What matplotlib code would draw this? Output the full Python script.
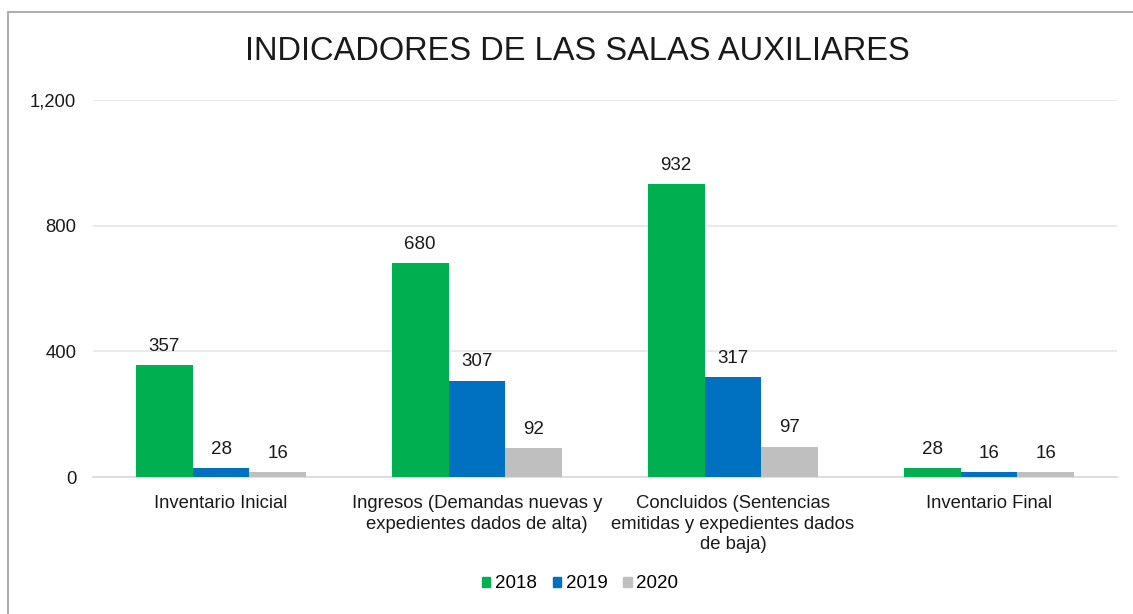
import matplotlib
matplotlib.use("Agg")
import matplotlib.pyplot as plt
import numpy as np
from matplotlib.lines import Line2D

plt.rcParams['font.family'] = ['Liberation Sans', 'DejaVu Sans']

categories = ["Inventario Inicial",
              "Ingresos (Demandas nuevas y\nexpedientes dados de alta)",
              "Concluidos (Sentencias\nemitidas y expedientes dados\nde baja)",
              "Inventario Final"]
series_names = ["2018", "2019", "2020"]
v2018 = [357, 680, 932, 28]
v2019 = [28, 307, 317, 16]
v2020 = [16, 92, 97, 16]
colors = ["#00B050", "#0070C0", "#BFBFBF"]

W, H = 1133, 614
fig = plt.figure(figsize=(W/100, H/100), dpi=100)
ax = fig.add_axes([93/W, 1-477/H, (1117-93)/W, (477-100)/H])

x = np.arange(len(categories))
bw = 0.222
for i, (vals, c, name) in enumerate(zip([v2018, v2019, v2020], colors, series_names)):
    pos = x + (i-1)*bw
    ax.bar(pos, vals, width=bw, color=c, label=name, zorder=3)
    for p, v in zip(pos, vals):
        ax.text(p, v + 32, f"{v:,}", ha='center', va='bottom', fontsize=13.5, color='#1a1a1a')

ax.set_xlim(-0.5, len(categories)-0.5)
ax.set_ylim(0, 1200)
ax.set_yticks([0, 400, 800, 1200])
ax.set_yticklabels([f"{t:,}" for t in [0, 400, 800, 1200]])
ax.yaxis.grid(True, color='#E6E6E6', linewidth=1.2, zorder=0)
ax.set_axisbelow(True)
for s in ['top', 'right', 'left']:
    ax.spines[s].set_visible(False)
ax.spines['bottom'].set_color('#D9D9D9')
ax.spines['bottom'].set_linewidth(1.2)
ax.tick_params(axis='both', length=0, labelsize=13.3, colors='#1a1a1a')
ax.tick_params(axis='y', pad=12)
ax.tick_params(axis='x', pad=13)
ax.set_xticks(x)
ax.set_xticklabels(categories, linespacing=1.28)

fig.text(0.51, 1-52/H, "INDICADORES DE LAS SALAS AUXILIARES", ha='center', va='center',
         fontsize=23.5, color='#1a1a1a')

handles = [plt.Rectangle((0, 0), 1, 1, color=c) for c in colors]
fig.legend(handles, series_names, loc='center', bbox_to_anchor=(580/W, 1-584/H), ncol=3,
           frameon=False, fontsize=13.5, handlelength=0.45, handleheight=0.45,
           handletextpad=0.25, columnspacing=0.85, borderpad=0, borderaxespad=0)

# outer border
fig.add_artist(Line2D([8/W, 1], [1-12/H, 1-12/H], color='#B0B0B0', linewidth=1.5))
fig.add_artist(Line2D([8/W, 8/W], [0, 1-12/H], color='#B0B0B0', linewidth=1.5))

fig.savefig("out.png", dpi=100)
